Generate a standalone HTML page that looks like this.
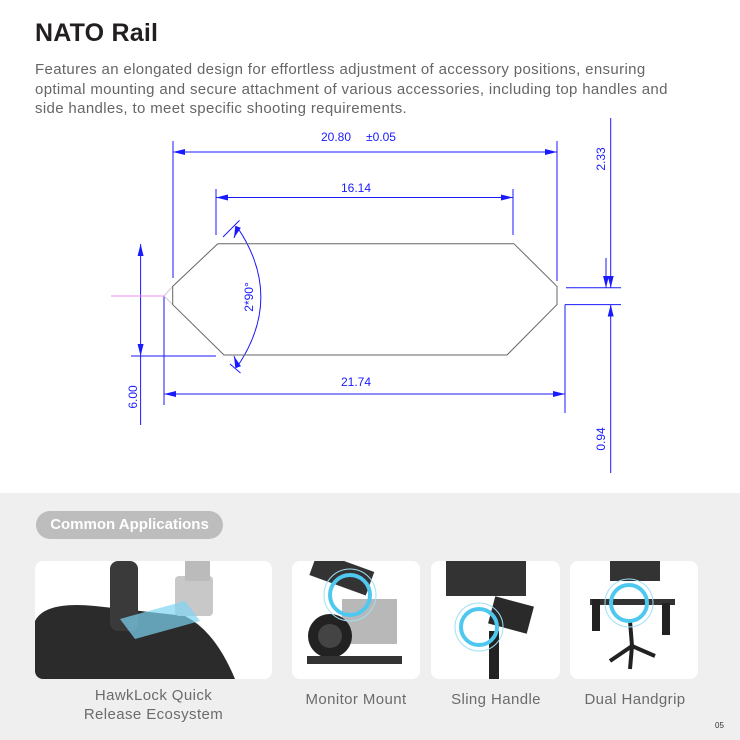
<!DOCTYPE html>
<html><head><meta charset="utf-8"><style>
html,body{margin:0;padding:0;background:#fff;}
body{width:740px;height:740px;position:relative;overflow:hidden;font-family:"Liberation Sans",sans-serif;}
.t{position:absolute;left:35px;top:19px;font-size:25px;font-weight:bold;color:#231f20;letter-spacing:0.2px}
.p{position:absolute;left:35px;top:60px;width:700px;font-size:15px;line-height:19.5px;color:#666;letter-spacing:0.35px}
.band{position:absolute;left:0;top:493px;width:740px;height:247px;background:#efefef}
.pill{position:absolute;left:36px;top:511px;width:187px;height:28px;border-radius:14px;background:#bdbdbd;color:#fff;font-weight:bold;font-size:15px;line-height:28px;text-align:center}
.card{position:absolute;top:561px;height:118px;background:#fff;border-radius:8px;overflow:hidden}
.lb{position:absolute;font-size:15px;color:#6b6b6b;text-align:center;line-height:19px;letter-spacing:0.4px}
</style></head><body>
<div class="t">NATO Rail</div>
<div class="p">Features an elongated design for effortless adjustment of accessory positions, ensuring<br>optimal mounting and secure attachment of various accessories, including top handles and<br>side handles, to meet specific shooting requirements.</div>
<svg style="position:absolute;left:0;top:0" width="740" height="493" viewBox="0 0 740 493">
<defs>
<marker id="a" markerWidth="12" markerHeight="6" refX="12" refY="3" orient="auto" markerUnits="userSpaceOnUse"><path d="M0,0 L12,3 L0,6 Z" fill="#1a1aff"/></marker>
</defs>
<g stroke="#1a1aff" stroke-width="1" fill="none">
<!-- 20.80 -->
<line x1="173" y1="141" x2="173" y2="278"/>
<line x1="557" y1="141" x2="557" y2="281"/>
<line x1="180" y1="152" x2="173" y2="152"/>
<line x1="173" y1="152" x2="557" y2="152" marker-end="url(#a)"/>
<line x1="557" y1="152" x2="173" y2="152" marker-end="url(#a)"/>
<!-- 16.14 -->
<line x1="216" y1="189" x2="216" y2="235"/>
<line x1="513" y1="189" x2="513" y2="235"/>
<line x1="216" y1="197.5" x2="513" y2="197.5" marker-end="url(#a)"/>
<line x1="513" y1="197.5" x2="216" y2="197.5" marker-end="url(#a)"/>
<!-- 21.74 -->
<line x1="164" y1="296" x2="164" y2="405"/>
<line x1="565" y1="304.6" x2="565" y2="413"/>
<line x1="164" y1="394" x2="565" y2="394" marker-end="url(#a)"/>
<line x1="565" y1="394" x2="164" y2="394" marker-end="url(#a)"/>
<line x1="565" y1="304.6" x2="621" y2="304.6"/>
<line x1="566" y1="287.8" x2="621" y2="287.8"/>
<!-- 6.00 -->
<line x1="131" y1="356" x2="216" y2="356"/>
<line x1="140.6" y1="300" x2="140.6" y2="244" marker-end="url(#a)"/>
<line x1="140.6" y1="300" x2="140.6" y2="356" marker-end="url(#a)"/>
<line x1="140.6" y1="356" x2="140.6" y2="425"/>
<!-- 2.33 / 0.94 -->
<line x1="610.7" y1="118" x2="610.7" y2="287.8" marker-end="url(#a)"/>
<line x1="606" y1="258" x2="606" y2="287.8" marker-end="url(#a)"/>
<line x1="610.7" y1="473" x2="610.7" y2="304.6" marker-end="url(#a)"/>
<!-- arc -->
<path d="M237.7,227.8 Q284,297 237.7,366"/>
<line x1="237.7" y1="227.8" x2="234" y2="238" marker-end="url(#a)"/>
<line x1="237.7" y1="366" x2="234" y2="356" marker-end="url(#a)"/>
<line x1="223" y1="237" x2="239.5" y2="220.4"/>
<line x1="230" y1="364" x2="240.5" y2="373"/>
</g>
<line x1="111" y1="296" x2="164" y2="296" stroke="#f08cf0" stroke-width="1"/>
<path d="M164,296 L172.7,286.4 M164,296 L172.7,304.6" stroke="#ccc" stroke-width="1" fill="none"/>
<polygon points="217.8,243.7 513.9,243.7 557,286.4 557,304.6 507,355 224,355 172.7,304.6 172.7,286.4" fill="none" stroke="#666" stroke-width="1"/>
<g fill="#1a1aff" font-family="Liberation Sans,sans-serif" font-size="12">
<text x="336" y="141" text-anchor="middle">20.80</text>
<text x="381" y="141" text-anchor="middle">±0.05</text>
<text x="356" y="192" text-anchor="middle">16.14</text>
<text x="356" y="386" text-anchor="middle">21.74</text>
<text transform="translate(137,397) rotate(-90)" text-anchor="middle">6.00</text>
<text transform="translate(605,159) rotate(-90)" text-anchor="middle">2.33</text>
<text transform="translate(605,439) rotate(-90)" text-anchor="middle">0.94</text>
<text transform="translate(253,297) rotate(-90)" text-anchor="middle">2*90°</text>
</g>
</svg>
<div class="band"></div>
<div class="pill">Common Applications</div>
<div class="card" style="left:35px;width:237px">
<svg width="237" height="118"><path d="M0,118 L0,60 Q10,40 60,45 L150,55 Q180,70 200,118 Z" fill="#2b2b2b"/><rect x="75" y="0" width="28" height="70" rx="8" fill="#3a3a3a"/><rect x="140" y="15" width="38" height="40" rx="4" fill="#c8c8c8"/><rect x="150" y="0" width="25" height="20" fill="#bbb"/><path d="M85,58 L150,40 L165,60 L100,78 Z" fill="#7fd4f2" opacity="0.7"/></svg>
</div>
<div class="card" style="left:292px;width:128px">
<svg width="128" height="118"><rect x="20" y="0" width="60" height="25" fill="#333" transform="rotate(20 50 12)"/><rect x="50" y="38" width="55" height="45" fill="#b8b8b8"/><circle cx="38" cy="75" r="22" fill="#222"/><circle cx="38" cy="75" r="12" fill="#444"/><rect x="15" y="95" width="95" height="8" fill="#333"/><circle cx="58" cy="34" r="20" fill="none" stroke="#4fc8ef" stroke-width="4"/><circle cx="58" cy="34" r="26" fill="none" stroke="#9fe0f5" stroke-width="1"/></svg>
</div>
<div class="card" style="left:431px;width:129px">
<svg width="129" height="118"><rect x="15" y="0" width="80" height="35" fill="#333"/><rect x="60" y="40" width="40" height="28" fill="#2a2a2a" transform="rotate(15 80 54)"/><rect x="58" y="70" width="10" height="48" fill="#222"/><circle cx="48" cy="66" r="18" fill="none" stroke="#4fc8ef" stroke-width="4"/><circle cx="48" cy="66" r="24" fill="none" stroke="#9fe0f5" stroke-width="1"/></svg>
</div>
<div class="card" style="left:570px;width:128px">
<svg width="128" height="118"><rect x="40" y="0" width="50" height="20" fill="#333"/><rect x="20" y="38" width="85" height="6" fill="#333"/><rect x="22" y="38" width="8" height="32" fill="#222"/><rect x="92" y="42" width="8" height="32" fill="#222"/><path d="M60,60 L62,85 L40,100 M62,85 L85,95 M62,85 L60,108" stroke="#222" stroke-width="4" fill="none"/><circle cx="59" cy="42" r="18" fill="none" stroke="#4fc8ef" stroke-width="4"/><circle cx="59" cy="42" r="24" fill="none" stroke="#9fe0f5" stroke-width="1"/></svg>
</div>
<div class="lb" style="left:35px;width:237px;top:686px">HawkLock Quick<br>Release Ecosystem</div>
<div class="lb" style="left:280px;width:152px;top:690px">Monitor Mount</div>
<div class="lb" style="left:420px;width:152px;top:690px">Sling Handle</div>
<div class="lb" style="left:559px;width:152px;top:690px">Dual Handgrip</div>
<div style="position:absolute;left:715px;top:721px;font-size:8px;color:#333">05</div>
</body></html>
